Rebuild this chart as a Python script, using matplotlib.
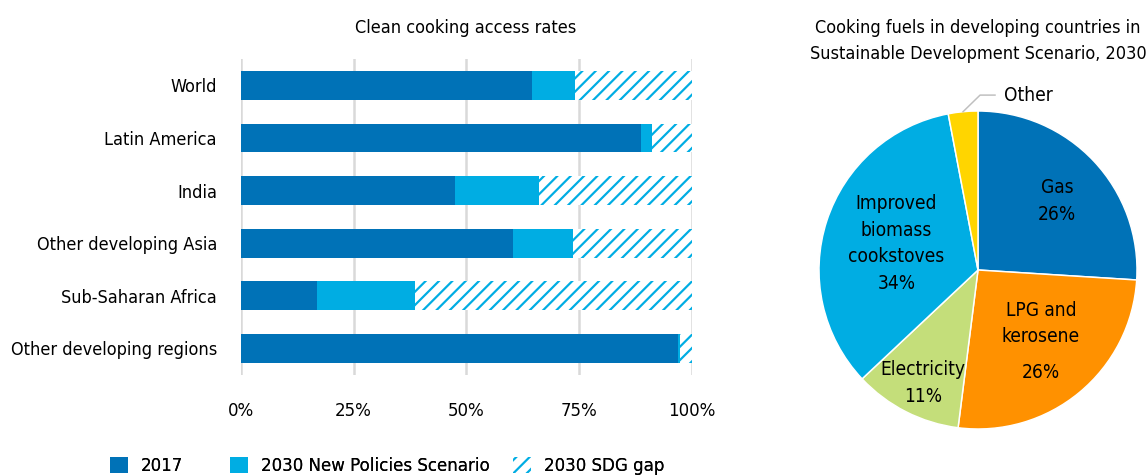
import numpy as np
import matplotlib.pyplot as plt
from matplotlib.patches import Patch

DPI = 80  # hatch spacing follows dpi, 80 gives ~13 px like the reference


def pt(px):
    # pixel size -> points at this dpi
    return px * 72 / DPI


plt.rcParams['font.family'] = ['DejaVu Sans']
plt.rcParams['font.stretch'] = 'condensed'
plt.rcParams['hatch.linewidth'] = pt(2.2)

# data
regions = ['World', 'Latin America', 'India', 'Other developing Asia',
           'Sub-Saharan Africa', 'Other developing regions']
access_2017 = np.array([64.5, 88.7, 47.4, 60.3, 16.9, 96.9])
added_nps_2030 = np.array([9.7, 2.6, 18.7, 13.4, 21.8, 0.5])
sdg_gap = 100 - access_2017 - added_nps_2030
x_ticks = [0, 25, 50, 75, 100]
x_labels = ['0%', '25%', '50%', '75%', '100%']
legend_labels = ['2017', '2030 New Policies Scenario', '2030 SDG gap']

fuels = ['Gas', 'LPG and\nkerosene', 'Electricity', 'Improved\nbiomass\ncookstoves', 'Other']
fuel_shares = [26, 26, 11, 34, 3]

dark_blue = '#0072B7'
light_blue = '#00ADE3'
pie_colors = [dark_blue, '#FF9100', '#C4DE7A', light_blue, '#FFD500']

W, H = 1146, 476
fig = plt.figure(figsize=(W / DPI, H / DPI), dpi=DPI)

# ---- bar chart
ax = fig.add_axes([241 / W, 1 - 374.6 / H, 450.7 / W, 315.5 / H])
y = np.arange(len(regions))
ax.barh(y, access_2017, height=0.55, color=dark_blue, linewidth=0)
ax.barh(y, added_nps_2030, left=access_2017, height=0.55, color=light_blue, linewidth=0)
ax.barh(y, sdg_gap, left=access_2017 + added_nps_2030, height=0.55, color='white',
        edgecolor=light_blue, hatch='//', linewidth=0)
ax.set_xlim(0, 100)
ax.set_ylim(len(regions) - 0.5, -0.5)
ax.set_yticks(y)
ax.set_yticklabels(regions, fontsize=pt(18))
ax.set_xticks(x_ticks)
ax.set_xticklabels(x_labels, fontsize=pt(18.5))
ax.tick_params(length=0)
ax.tick_params(axis='y', pad=pt(24))
ax.tick_params(axis='x', pad=pt(27))
for s in ax.spines.values():
    s.set_visible(False)
ax.xaxis.grid(True, color='#D9D9D9', linewidth=pt(2.5))
ax.set_axisbelow(True)

fig.text(466 / W, 1 - 28 / H, 'Clean cooking access rates', ha='center', va='center',
         fontsize=pt(18))

# legend: one entry per legend so the columns sit where the reference has them
handles = [Patch(facecolor=dark_blue, linewidth=0),
           Patch(facecolor=light_blue, linewidth=0),
           Patch(facecolor='white', edgecolor=light_blue, hatch='//', linewidth=0)]
leg_x = [110, 230, 513]
for h, lab, lx in zip(handles, legend_labels, leg_x):
    lg = fig.legend([h], [lab], loc='center left', bbox_to_anchor=(lx / W, 1 - 466 / H),
                    frameon=False, fontsize=pt(18.5), handlelength=0.95, handleheight=0.95,
                    handletextpad=0.7, borderpad=0, borderaxespad=0)
    fig.add_artist(lg)

# ---- pie chart
cx, cy, r = 978, 270, 159
lim = 1.3
ax2 = fig.add_axes([(cx - r * lim) / W, (H - cy - r * lim) / H, 2 * r * lim / W, 2 * r * lim / H])
wedges, _ = ax2.pie(fuel_shares, colors=pie_colors, startangle=90, counterclock=False,
                    wedgeprops=dict(edgecolor='white', linewidth=pt(1.5)))
ax2.set_xlim(-lim, lim)
ax2.set_ylim(-lim, lim)
ax2.set_aspect('equal')
ax2.axis('off')

label_r = [0.66, 0.52, 0.79, 0.54]
label_shift = [-2, 10, 1, 0]
fs_pie = pt(19)
for i in range(4):
    w = wedges[i]
    th = np.deg2rad((w.theta1 + w.theta2) / 2 + label_shift[i])
    lx, ly = label_r[i] * np.cos(th), label_r[i] * np.sin(th)
    if i == 1:
        ax2.text(lx, ly, fuels[i], ha='center', va='center', fontsize=fs_pie, linespacing=1.5)
        ax2.text(lx, ly - 0.31, '%d%%' % fuel_shares[i], ha='center', va='center', fontsize=fs_pie)
    else:
        ax2.text(lx, ly, fuels[i] + '\n%d%%' % fuel_shares[i], ha='center', va='center',
                 fontsize=fs_pie, linespacing=1.5)

w = wedges[4]
th = np.deg2rad((w.theta1 + w.theta2) / 2)
ex, ey = np.cos(th), np.sin(th)
ax2.plot([ex, 0.013, 0.107], [ey, 1.10, 1.10], color='#BFBFBF', linewidth=pt(1.5), clip_on=False)
ax2.text(0.165, 1.10, fuels[4], ha='left', va='center', fontsize=fs_pie)

fig.text(cx / W, 1 - 41 / H, 'Cooking fuels in developing countries in\nSustainable Development Scenario, 2030',
         ha='center', va='center', fontsize=pt(18), linespacing=1.6)

fig.savefig('out.png', dpi=DPI)
